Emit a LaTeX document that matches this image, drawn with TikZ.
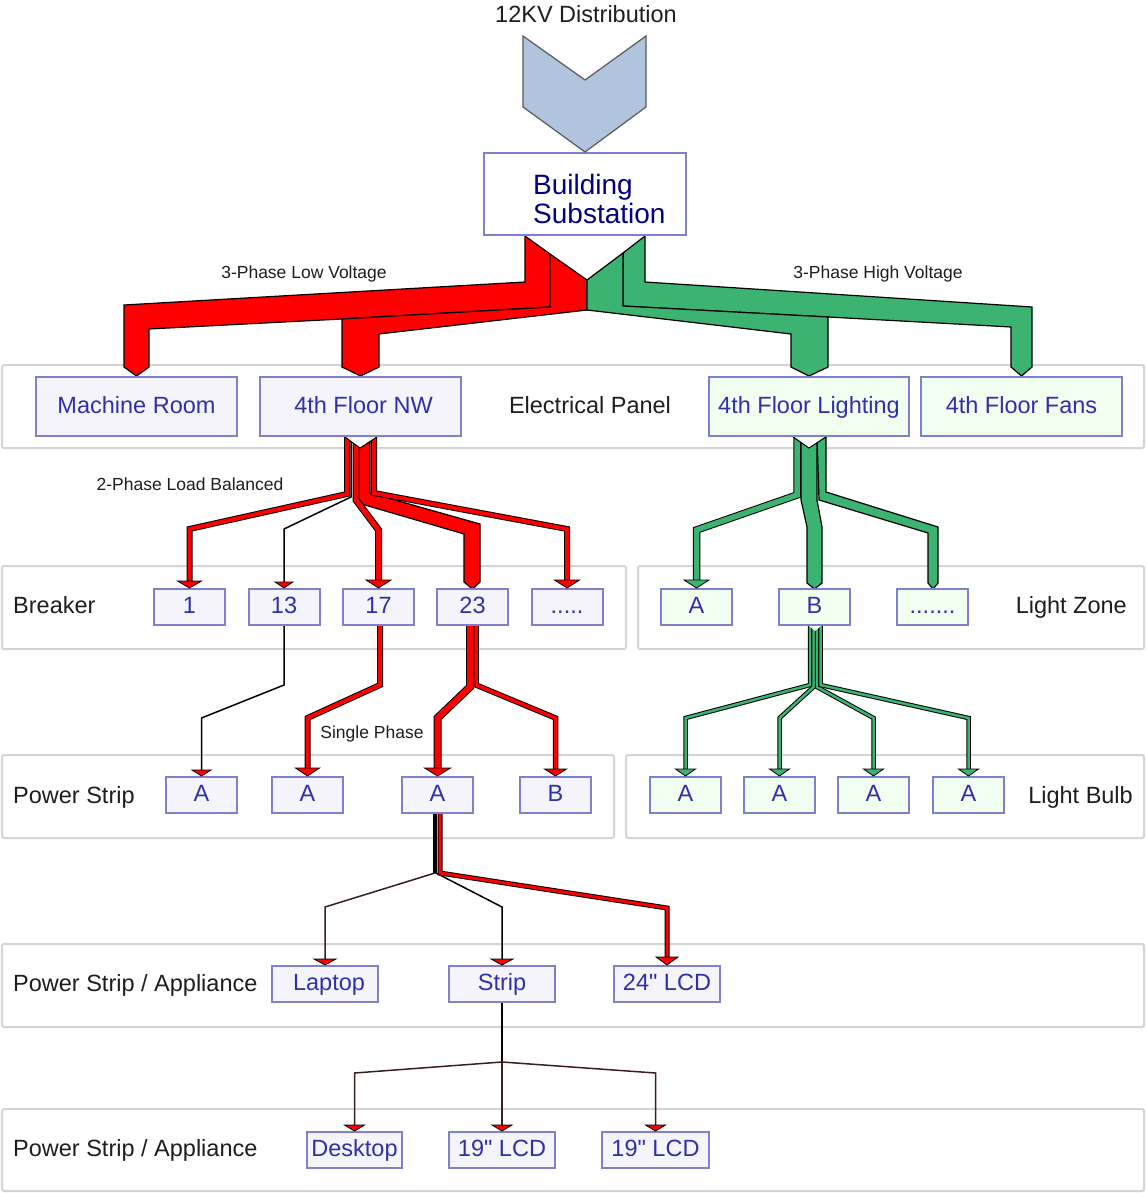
\documentclass[tikz,border=0pt]{standalone}
\usepackage{fontspec}
\setmainfont{Liberation Sans}
\font\qfont="Liberation Sans" at 23.5pt
\usetikzlibrary{backgrounds}
\definecolor{boxc}{RGB}{128,128,204}
\definecolor{lav}{RGB}{244,244,250}
\definecolor{hdew}{RGB}{240,255,240}
\definecolor{btxt}{RGB}{48,48,168}
\definecolor{navyc}{RGB}{0,0,128}
\definecolor{bandc}{RGB}{212,212,212}
\definecolor{sgreen}{RGB}{60,179,113}
\definecolor{chev}{RGB}{176,196,222}
\definecolor{lbl}{RGB}{30,30,30}
\definecolor{dkl}{RGB}{60,30,30}
\newcommand\fbig{\fontsize{23.5pt}{28pt}\selectfont}
\newcommand\fsmall{\fontsize{17.5pt}{21pt}\selectfont}
\newcommand\fsub{\fontsize{28pt}{30pt}\selectfont}
\newcommand{\ahd}[4]{\filldraw[fill=#2, draw=black, line width=0.8, line join=miter] (#1) -- ++(-#3,-#4) -- ++(2*#3,0) -- cycle;}
\tikzset{
 band/.style={draw=bandc, line width=2, rounded corners=2},
 box/.style={draw=boxc, line width=2, fill=lav, text=btxt, font=\fbig, inner sep=0pt, text height=17pt, text depth=4pt, minimum width=71, minimum height=36},
 gbox/.style={box, fill=hdew},
 lab/.style={text=lbl, font=\fbig, inner sep=0pt},
 slab/.style={text=lbl, font=\fsmall, inner sep=0pt},
 fat/.style={draw=black, line width=1.2, line join=miter},
 rl/.style={draw=black, line width=1, double=red, double distance=#1, line join=miter},
 gl/.style={draw=black, line width=1, double=sgreen, double distance=#1, line join=miter},
 thinl/.style={draw=black, line width=1.5, line join=miter},
 dl/.style={draw=dkl, line width=1.5, line join=miter}
}
\begin{document}
\begin{tikzpicture}[x=1pt,y=-1pt]
\useasboundingbox (0,0) rectangle (1146,1193);
% ---------- boxes ----------
\node[box, fill=white, minimum width=202, minimum height=82] (sub) at (585,194) {};
\node[anchor=base west, text=navyc, font=\fsub, inner sep=0pt] (subt1) at (533,194) {Building};
\node[anchor=base west, text=navyc, font=\fsub, inner sep=0pt] (subt2) at (533,223) {Substation};
\node[box, minimum width=201, minimum height=59] (mr) at (136.5,406.5) {Machine Room};
\node[box, minimum width=201, minimum height=59] (nw) at (360.5,406.5) {\hspace*{6pt}4th Floor NW};
\node[gbox, minimum width=200, minimum height=59] (lit) at (809,406.5) {4th Floor Lighting};
\node[gbox, minimum width=201, minimum height=59] (fan) at (1021.5,406.5) {4th Floor Fans};
\node[box] (b1) at (189.5,607) {1};
\node[box] (b13) at (284,607) {13};
\node[box] (b17) at (378.5,607) {17};
\node[box] (b23) at (472.5,607) {23};
\node[box] (bdots) at (567,607) {.....};
\node[gbox] (zA) at (696.5,607) {A};
\node[gbox] (zB) at (814.5,607) {B};
\node[gbox] (zdots) at (932.5,607) {.......};
\node[box] (pA1) at (201.5,795) {A};
\node[box] (pA2) at (307.5,795) {A};
\node[box] (pA3) at (437.5,795) {A};
\node[box] (pB) at (555.5,795) {B};
\node[gbox] (lA1) at (685.5,795) {A};
\node[gbox] (lA2) at (779.5,795) {A};
\node[gbox] (lA3) at (873.5,795) {A};
\node[gbox] (lA4) at (968.5,795) {A};
\node[box, minimum width=106] (lap) at (325,984) {\hspace*{8pt}Laptop};
\node[box, minimum width=106] (strip) at (502,984) {Strip};
\node[box, minimum width=106, font=\qfont] (lcd24) at (667,984) {24" LCD};
\node[box, minimum width=95] (desk) at (354.5,1150) {Desktop};
\node[box, minimum width=106, font=\qfont] (lcd19a) at (502,1150) {19" LCD};
\node[box, minimum width=107, font=\qfont] (lcd19b) at (655.5,1150) {19" LCD};
% ---------- labels ----------
\node[lab, anchor=base] (ttl) at (586,22.5) {12KV Distribution};
\node[lab, anchor=base] (ep) at (590,413.5) {Electrical Panel};
\node[lab, anchor=base west] (lbr) at (13,613.5) {Breaker};
\node[lab, anchor=base east] (llz) at (1127,613.5) {Light Zone};
\node[lab, anchor=base west] (lps) at (13,803.5) {Power Strip};
\node[lab, anchor=base east] (llb) at (1133,803.5) {Light Bulb};
\node[lab, anchor=base west] (lpa1) at (13,991.5) {Power Strip / Appliance};
\node[lab, anchor=base west] (lpa2) at (13,1156.5) {Power Strip / Appliance};
\node[slab, anchor=base] (s3l) at (304,278) {3-Phase Low Voltage};
\node[slab, anchor=base] (s3h) at (878,278) {3-Phase High Voltage};
\node[slab, anchor=base] (s2p) at (190,490) {2-Phase Load Balanced};
\node[slab, anchor=base] (s1p) at (372,738) {Single Phase};
% ---------- chevron ----------
\filldraw[fill=chev, draw=black!65, line width=1.2, line join=miter] (523,36) -- (585,80) -- (646,36) -- (646,107) -- (585,152) -- (523,107) -- cycle;
% ---------- background: bands and connectors ----------
\begin{pgfonlayer}{background}
\fill[white] (0,0) rectangle (1146,1193);
\draw[band] (2,365) rectangle (1144,448);
\draw[band] (2,566) rectangle (626,649);
\draw[band] (638,566) rectangle (1144,649);
\draw[band] (2,755) rectangle (614,838);
\draw[band] (626,755) rectangle (1144,838);
\draw[band] (2,944) rectangle (1144,1027);
\draw[band] (2,1109) rectangle (1144,1191);
% 3-phase low voltage
\filldraw[fat, fill=red] (525,236) -- (550,254) -- (550,307) -- (342,319) -- (149,329) -- (149,367) -- (136.5,376) -- (124,367) -- (124,305) -- (525,282) -- cycle;
\filldraw[fat, fill=red] (550,254) -- (587,280) -- (587,310) -- (379,334) -- (379,367) -- (360.5,376) -- (342,367) -- (342,319) -- (550,307) -- cycle;
% 3-phase high voltage
\filldraw[fat, fill=sgreen] (645,236) -- (645,282) -- (1032,307) -- (1032,367) -- (1021.5,376) -- (1011,367) -- (1011,327) -- (828,317) -- (623,306) -- (623,253) -- cycle;
\filldraw[fat, fill=sgreen] (623,253) -- (587,280) -- (587,310) -- (791,334) -- (791,367) -- (809,376) -- (828,367) -- (828,317) -- (623,306) -- cycle;
% 2-phase load balanced
\filldraw[fat, fill=red] (358,436) -- (370,436) -- (370,493) -- (480,524) -- (480,582) -- (472.5,589) -- (464,582) -- (464,534) -- (358,503) -- cycle;
\draw[rl=5] (356,436) -- (356,500) -- (378.5,530) -- ([yshift=7pt]b17.north);
\draw[rl=4] (374,436) -- (374,493) -- (567,529) -- ([yshift=7pt]bdots.north);
\draw[thinl] (351,436) -- (351,497) -- (284,529) -- ([yshift=6pt]b13.north);
\draw[rl=4] (347,436) -- (347,494) -- (189.5,529) -- ([yshift=7pt]b1.north);
\fill[white] (343,435) -- (379,435) -- (360,448) -- cycle;
\draw[black, line width=1] (345,437) -- (360,448) -- (377,437);
% light zones
\filldraw[fat, fill=sgreen] (817,436) -- (826,436) -- (826,492) -- (938,527) -- (938,583) -- (933,589) -- (928,583) -- (928,533) -- (819,500) -- cycle;
\filldraw[fat, fill=sgreen] (801,436) -- (817,436) -- (817,500) -- (822,527) -- (822,583) -- (814.5,589) -- (807,583) -- (807,527) -- (801,500) -- cycle;
\draw[gl=5.5] (797,436) -- (797,495) -- (696.5,530) -- ([yshift=7pt]zA.north);
\fill[white] (792,435) -- (827,435) -- (809,448) -- cycle;
\draw[black, line width=1] (793,437) -- (809,448) -- (826,437);
% light bulbs
\draw[gl=2.5] (810,625) -- (810,685) -- (685.5,718) -- ([yshift=7pt]lA1.north);
\draw[gl=2.5] (813.5,625) -- (813.5,687) -- (779.5,718) -- ([yshift=7pt]lA2.north);
\draw[gl=2.5] (817,625) -- (817,687) -- (873.5,718) -- ([yshift=7pt]lA3.north);
\draw[gl=2.5] (820.5,625) -- (820.5,685) -- (968.5,718) -- ([yshift=7pt]lA4.north);
\fill[white] (808,625) -- (822,625) -- (815,631) -- cycle;
% breakers to power strips
\draw[thinl] (b13.south) -- (284,685) -- (201.5,718) -- ([yshift=6pt]pA1.north);
\draw[rl=4] (380,625) -- (380,685) -- (307.5,718) -- ([yshift=7pt]pA2.north);
\draw[rl=3.5] (476,625) -- (476,685) -- (555.5,718) -- ([yshift=7pt]pB.north);
\draw[rl=6] (470,625) -- (470,687) -- (437.5,718) -- ([yshift=7pt]pA3.north);
% power strip A to appliances
\draw[dl] (435,813) -- (435,873) -- (325,907) -- ([yshift=6pt]lap.north);
\draw[thinl] (436,813) -- (436,873) -- (502,907) -- ([yshift=6pt]strip.north);
\draw[black, line width=4] (435,813) -- (435,873);
\draw[rl=3] (440,813) -- (440,873) -- (667,908) -- ([yshift=7pt]lcd24.north);
% strip to appliances
\draw[black, line width=2.5] (strip.south) -- (502,1062);
\draw[dl] (502,1062) -- (354.5,1073) -- ([yshift=6pt]desk.north);
\draw[dl] (502,1062) -- ([yshift=6pt]lcd19a.north);
\draw[dl] (502,1062) -- (655.5,1073) -- ([yshift=6pt]lcd19b.north);
\end{pgfonlayer}
% ---------- arrowheads ----------
\ahd{b1.north}{red}{12}{7}
\ahd{b13.north}{red}{9}{6}
\ahd{b17.north}{red}{12.5}{8}
\ahd{bdots.north}{red}{12.5}{8}
\ahd{zA.north}{sgreen}{12.5}{8}
\ahd{lA1.north}{sgreen}{10}{7}
\ahd{lA2.north}{sgreen}{10}{7}
\ahd{lA3.north}{sgreen}{10}{7}
\ahd{lA4.north}{sgreen}{10}{7}
\ahd{pA1.north}{red}{9.5}{6}
\ahd{pA2.north}{red}{12}{8}
\ahd{pA3.north}{red}{13}{8}
\ahd{pB.north}{red}{11}{7}
\ahd{lap.north}{red}{11}{6}
\ahd{strip.north}{red}{11}{6}
\ahd{lcd24.north}{red}{11}{8}
\ahd{desk.north}{red}{10}{6}
\ahd{lcd19a.north}{red}{10}{6}
\ahd{lcd19b.north}{red}{10}{6}
\end{tikzpicture}
\end{document}
